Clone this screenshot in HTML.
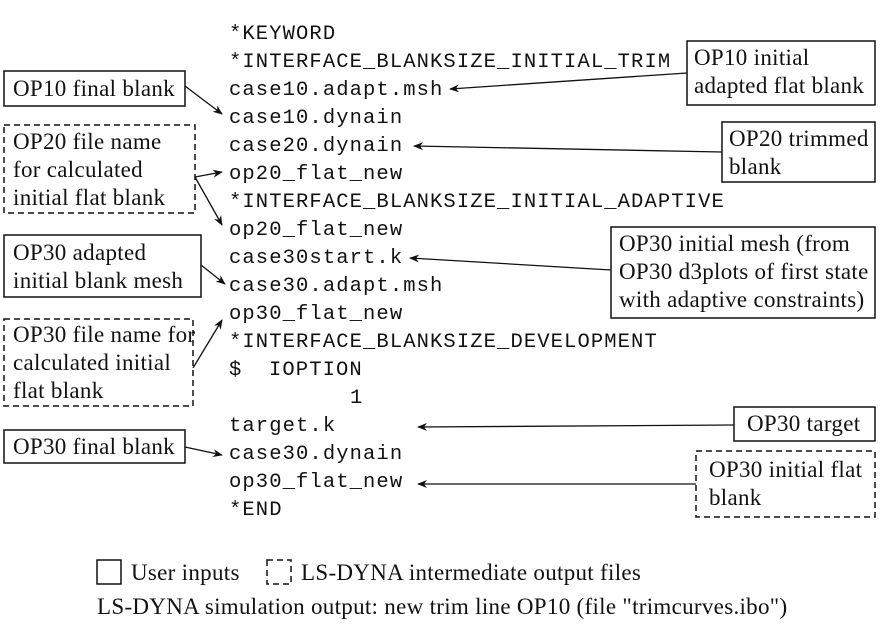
<!DOCTYPE html>
<html><head><meta charset="utf-8"><style>
html,body{margin:0;padding:0;background:#fff;}
svg{display:block;}
.m{font-family:"Liberation Mono",monospace;font-size:20.5px;letter-spacing:1.1px;fill:#111;}
.s{font-family:"Liberation Serif",serif;font-size:23px;letter-spacing:0.3px;fill:#111;}
</style></head><body>
<svg width="882" height="625" viewBox="0 0 882 625" xmlns="http://www.w3.org/2000/svg">
<defs><marker id="a" markerWidth="10" markerHeight="8" refX="9" refY="4" orient="auto" markerUnits="userSpaceOnUse"><path d="M0,0 L10,4 L0,8 L3,4 Z" fill="#111"/></marker></defs>
<g class="m">
<text x="229" y="39">*KEYWORD</text>
<text x="229" y="67">*INTERFACE_BLANKSIZE_INITIAL_TRIM</text>
<text x="229" y="95">case10.adapt.msh</text>
<text x="229" y="123">case10.dynain</text>
<text x="229" y="151">case20.dynain</text>
<text x="229" y="179">op20_flat_new</text>
<text x="229" y="207">*INTERFACE_BLANKSIZE_INITIAL_ADAPTIVE</text>
<text x="229" y="235">op20_flat_new</text>
<text x="229" y="263">case30start.k</text>
<text x="229" y="291">case30.adapt.msh</text>
<text x="229" y="319">op30_flat_new</text>
<text x="229" y="347">*INTERFACE_BLANKSIZE_DEVELOPMENT</text>
<text x="229" y="375">$</text>
<text x="269" y="375">IOPTION</text>
<text x="350" y="403">1</text>
<text x="229" y="431">target.k</text>
<text x="229" y="459">case30.dynain</text>
<text x="229" y="487">op30_flat_new</text>
<text x="229" y="515">*END</text>
</g>
<g fill="none" stroke="#111" stroke-width="1.5">
<rect x="4" y="71" width="181" height="35"/>
<rect x="4" y="125" width="191" height="88" stroke-dasharray="6,4"/>
<rect x="4" y="235" width="197" height="62"/>
<rect x="4" y="319" width="189" height="87" stroke-dasharray="6,4"/>
<rect x="4" y="430" width="181" height="33"/>
<rect x="687" y="41" width="188" height="64"/>
<rect x="722" y="122" width="153" height="60"/>
<rect x="611" y="227" width="264" height="91"/>
<rect x="734" y="407" width="141" height="34"/>
<rect x="696" y="451" width="179" height="66" stroke-dasharray="6,4"/>
<rect x="97" y="560" width="24" height="24"/>
<rect x="267" y="560" width="24" height="24" stroke-dasharray="6,4"/>
</g>
<g stroke="#111" stroke-width="1.3" marker-end="url(#a)">
<line x1="185" y1="86" x2="222" y2="114"/>
<line x1="195" y1="177" x2="222" y2="172"/>
<line x1="195" y1="177" x2="222" y2="225"/>
<line x1="201" y1="265" x2="225" y2="284"/>
<line x1="193" y1="368" x2="222" y2="320"/>
<line x1="185" y1="447" x2="222" y2="455"/>
<line x1="687" y1="73" x2="450" y2="89"/>
<line x1="722" y1="152" x2="414" y2="146"/>
<line x1="611" y1="270" x2="410" y2="258"/>
<line x1="734" y1="425" x2="418" y2="427"/>
<line x1="696" y1="484" x2="418" y2="484"/>
</g>
<g class="s">
<text x="13" y="96">OP10 final blank</text>
<text x="13" y="149">OP20 file name</text>
<text x="13" y="177">for calculated</text>
<text x="13" y="205">initial flat blank</text>
<text x="13" y="260">OP30 adapted</text>
<text x="13" y="288">initial blank mesh</text>
<text x="13" y="342">OP30 file name for</text>
<text x="13" y="370">calculated initial</text>
<text x="13" y="398">flat blank</text>
<text x="13" y="454">OP30 final blank</text>
<text x="694" y="65">OP10 initial</text>
<text x="694" y="93">adapted flat blank</text>
<text x="729" y="146">OP20 trimmed</text>
<text x="729" y="174">blank</text>
<text x="619" y="251">OP30 initial mesh (from</text>
<text x="619" y="279">OP30 d3plots of first state</text>
<text x="619" y="307">with adaptive constraints)</text>
<text x="747" y="431">OP30 target</text>
<text x="709" y="477">OP30 initial flat</text>
<text x="709" y="505">blank</text>
<text x="131" y="580">User inputs</text>
<text x="301" y="580">LS-DYNA intermediate output files</text>
<text x="97" y="614">LS-DYNA simulation output: new trim line OP10 (file "trimcurves.ibo")</text>
</g>
</svg>
</body></html>
